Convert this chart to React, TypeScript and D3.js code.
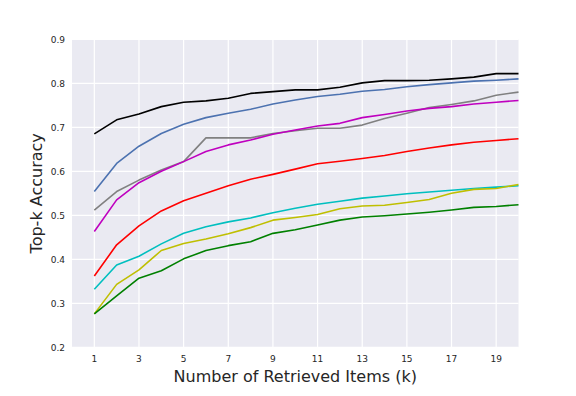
import React from "react";
import * as d3 from "d3";

const ks = d3.range(1, 21);
const xTicks = [1, 3, 5, 7, 9, 11, 13, 15, 17, 19];
const yTicks = [0.2, 0.3, 0.4, 0.5, 0.6, 0.7, 0.8, 0.9];

const blackVals = [0.685, 0.717, 0.730, 0.747, 0.757, 0.760, 0.766, 0.777, 0.781, 0.785, 0.785, 0.791, 0.801, 0.806, 0.806, 0.807, 0.810, 0.814, 0.822, 0.822];
const blueVals = [0.554, 0.618, 0.657, 0.686, 0.707, 0.722, 0.732, 0.741, 0.753, 0.762, 0.770, 0.775, 0.782, 0.786, 0.792, 0.797, 0.801, 0.805, 0.807, 0.810];
const grayVals = [0.512, 0.554, 0.580, 0.603, 0.622, 0.676, 0.676, 0.676, 0.686, 0.692, 0.698, 0.698, 0.705, 0.720, 0.732, 0.745, 0.752, 0.760, 0.773, 0.780];
const magentaVals = [0.463, 0.535, 0.574, 0.600, 0.622, 0.645, 0.660, 0.671, 0.684, 0.694, 0.703, 0.709, 0.722, 0.729, 0.737, 0.743, 0.747, 0.753, 0.757, 0.761];
const redVals = [0.362, 0.433, 0.476, 0.510, 0.533, 0.550, 0.567, 0.582, 0.593, 0.605, 0.617, 0.623, 0.629, 0.636, 0.645, 0.653, 0.660, 0.666, 0.670, 0.674];
const cyanVals = [0.332, 0.387, 0.407, 0.435, 0.459, 0.474, 0.485, 0.494, 0.506, 0.516, 0.525, 0.532, 0.539, 0.544, 0.549, 0.553, 0.557, 0.561, 0.564, 0.567];
const yellowVals = [0.276, 0.343, 0.376, 0.420, 0.436, 0.446, 0.458, 0.472, 0.489, 0.495, 0.502, 0.515, 0.521, 0.523, 0.529, 0.536, 0.550, 0.559, 0.561, 0.570];
const greenVals = [0.276, 0.317, 0.357, 0.374, 0.401, 0.420, 0.431, 0.440, 0.459, 0.467, 0.478, 0.489, 0.496, 0.499, 0.503, 0.507, 0.512, 0.518, 0.520, 0.524];

const seriesList = [
  { name: "black", values: blackVals, color: "#000000" },
  { name: "blue", values: blueVals, color: "#4c72b0" },
  { name: "gray", values: grayVals, color: "#808080" },
  { name: "magenta", values: magentaVals, color: "#bf00bf" },
  { name: "red", values: redVals, color: "#ff0000" },
  { name: "cyan", values: cyanVals, color: "#00bfbf" },
  { name: "yellow", values: yellowVals, color: "#bfbf00" },
  { name: "green", values: greenVals, color: "#008000" },
];

const W = 576, H = 396;
const L = 72, R = 518.5, T = 39.3, B = 347.3;

export default function App() {
  const x = d3.scaleLinear().domain([0, 20]).range([L, R]);
  const y = d3.scaleLinear().domain([0.2, 0.9]).range([B, T]);
  const line = d3.line<number>().x((_, i) => x(ks[i])).y((d) => y(d));
  const font = "'DejaVu Sans', sans-serif";
  return (
    <svg width={W} height={H} style={{ position: "absolute", left: 0, top: 0 }}>
      <rect x={0} y={0} width={W} height={H} fill="#ffffff" />
      <rect x={L} y={T} width={R - L} height={B - T} fill="#eaeaf2" />
      {xTicks.map((t) => (
        <line key={"gx" + t} x1={x(t)} x2={x(t)} y1={T} y2={B} stroke="#ffffff" strokeWidth={1.2} />
      ))}
      {yTicks.map((t) => (
        <line key={"gy" + t} x1={L} x2={R} y1={y(t)} y2={y(t)} stroke="#ffffff" strokeWidth={1.2} />
      ))}
      {seriesList.map((s) => (
        <path key={s.name} d={line(s.values) || ""} fill="none" stroke={s.color} strokeWidth={1.6} strokeLinejoin="round" />
      ))}
      {xTicks.map((t) => (
        <text key={"tx" + t} x={x(t)} y={B + 15} textAnchor="middle" fontFamily={font} fontSize={9} fill="#262626">{t}</text>
      ))}
      {yTicks.map((t) => (
        <text key={"ty" + t} x={L - 7} y={y(t) + 3.2} textAnchor="end" fontFamily={font} fontSize={9} fill="#262626">{t.toFixed(1)}</text>
      ))}
      <text x={(L + R) / 2} y={381.5} textAnchor="middle" fontFamily={font} fontSize={16} fill="#262626">Number of Retrieved Items (k)</text>
      <text transform={`translate(41.5, ${(T + B) / 2}) rotate(-90)`} textAnchor="middle" fontFamily={font} fontSize={16} fill="#262626">Top-k Accuracy</text>
    </svg>
  );
}
